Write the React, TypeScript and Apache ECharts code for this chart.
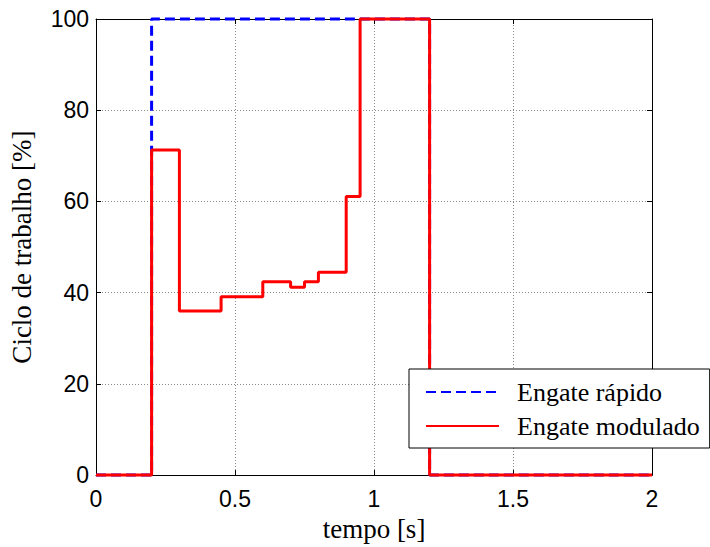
import React, { useEffect, useRef } from "react";
import * as echarts from "echarts";

const modT = [0, 0.2, 0.3, 0.45, 0.6, 0.7, 0.75, 0.8, 0.9, 0.95, 1.2, 2];
const modV = [0, 71.3, 36, 39.1, 42.4, 41.2, 42.4, 44.5, 61.1, 100, 0, 0];
const rapT = [0, 0.2, 1.2, 2];
const rapV = [0, 100, 0, 0];
const names = ["Engate rápido", "Engate modulado"];

const serif = "'Liberation Serif', 'Times New Roman', serif";
const sans = "'Liberation Sans', Arial, sans-serif";

export default function App() {
  const ref = useRef<HTMLDivElement>(null);
  useEffect(() => {
    if (!ref.current) return;
    const chart = echarts.init(ref.current, null, { renderer: "svg" });
    const gridLine = { show: true, lineStyle: { color: "#8a8a8a", type: [1, 2], width: 1 } };
    const tick = { show: true, inside: true, length: 5, lineStyle: { color: "#000" } };
    const axisLine = { show: true, onZero: false, lineStyle: { color: "#000", width: 1 } };
    chart.setOption({
      animation: false,
      backgroundColor: "#fff",
      grid: { left: 96, right: 58, top: 19, bottom: 70, containLabel: false },
      xAxis: [
        {
          type: "value", min: 0, max: 2, interval: 0.5, position: "bottom",
          axisLine, axisTick: tick, splitLine: gridLine,
          axisLabel: { color: "#000", fontFamily: sans, fontSize: 23, margin: 12 },
          name: "tempo [s]", nameLocation: "middle", nameGap: 37,
          nameTextStyle: { color: "#000", fontFamily: serif, fontSize: 27 },
        },
        {
          type: "value", min: 0, max: 2, interval: 0.5, position: "top",
          axisLine, axisTick: tick, splitLine: { show: false }, axisLabel: { show: false },
        },
      ],
      yAxis: [
        {
          type: "value", min: 0, max: 100, interval: 20, position: "left",
          axisLine, axisTick: tick, splitLine: gridLine,
          axisLabel: { color: "#000", fontFamily: sans, fontSize: 23, margin: 7 },
          name: "Ciclo de trabalho [%]", nameLocation: "middle", nameGap: 61,
          nameTextStyle: { color: "#000", fontFamily: serif, fontSize: 27 },
        },
        {
          type: "value", min: 0, max: 100, interval: 20, position: "right",
          axisLine, axisTick: tick, splitLine: { show: false }, axisLabel: { show: false },
        },
      ],
      legend: {
        orient: "vertical", left: 409, top: 369,
        backgroundColor: "#fff", borderColor: "#000", borderWidth: 1, borderRadius: 0,
        padding: [10, 10, 9, 16], itemGap: 8, itemWidth: 73, itemHeight: 14,
        itemStyle: { color: "rgba(0,0,0,0)", borderWidth: 0, opacity: 0 },
        textStyle: { color: "#000", fontFamily: serif, fontSize: 26, lineHeight: 26, padding: [0, 0, 0, 13] },
        data: names,
      },
      series: [
        {
          name: names[0], type: "line", step: "end", symbol: "none", clip: false,
          lineStyle: { color: "#0000ff", width: 3, type: [10, 5] },
          itemStyle: { color: "#0000ff" },
          data: rapT.map((t, i) => [t, rapV[i]]),
        },
        {
          name: names[1], type: "line", step: "end", symbol: "none", clip: false,
          lineStyle: { color: "#ff0000", width: 3 },
          itemStyle: { color: "#ff0000" },
          data: modT.map((t, i) => [t, modV[i]]),
        },
      ],
    });
    return () => chart.dispose();
  }, []);
  return <div ref={ref} style={{ width: 710, height: 547, position: "absolute", left: 0, top: 0 }} />;
}
